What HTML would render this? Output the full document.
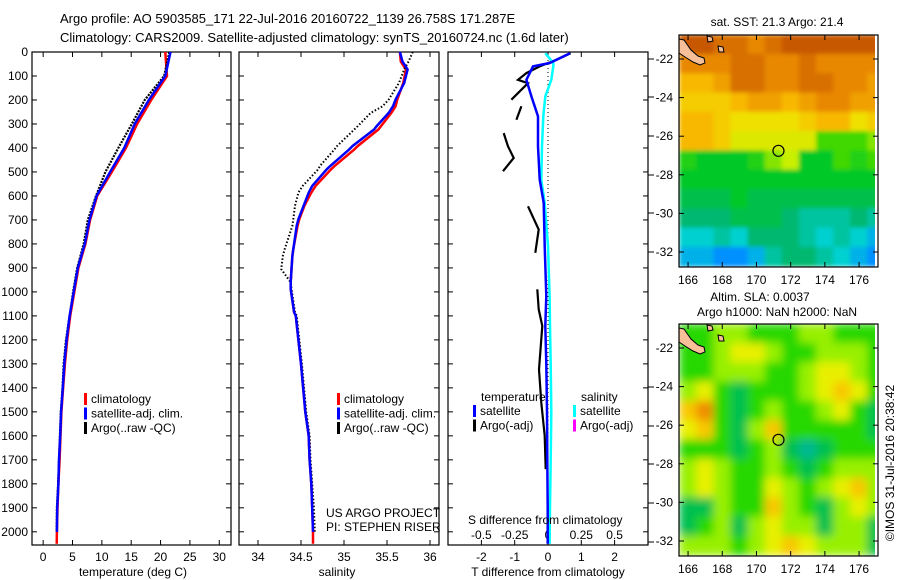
<!DOCTYPE html>
<html><head><meta charset="utf-8"><style>
body{margin:0;background:#fff;}
svg{display:block;font-family:"Liberation Sans",sans-serif;}
</style></head><body>
<svg id="fig" width="900" height="580" viewBox="0 0 900 580" xmlns="http://www.w3.org/2000/svg">
<defs>
<filter id="blurSla" x="0" y="0" width="1" height="1" filterUnits="objectBoundingBox"><feGaussianBlur stdDeviation="4.5" edgeMode="duplicate"/></filter>
<filter id="blurSst" x="0" y="0" width="1" height="1" filterUnits="objectBoundingBox"><feGaussianBlur stdDeviation="2" edgeMode="duplicate"/></filter>
</defs>
<rect width="900" height="580" fill="#fff"/>
<text x="60" y="23" font-size="13">Argo profile: AO 5903585_171 22-Jul-2016 20160722_1139 26.758S 171.287E</text>
<text x="60" y="42" font-size="13">Climatology: CARS2009. Satellite-adjusted climatology: synTS_20160724.nc (1.6d later)</text>
<g id="g"></g>
</svg>
<script>
// ---------- data ----------
const tDepth = [0,100,200,300,400,500,600,700,800,900,1000,1100,1200,1300,1400,1500,1600,1700,1800,1900,2000,2050];
const tClim  = [20.8,21.1,18.4,16.0,14.1,11.7,9.2,8.0,7.2,6.0,5.3,4.6,4.1,3.7,3.4,3.1,2.95,2.8,2.6,2.45,2.35,2.3];
const tSat   = [21.7,20.8,18.0,15.6,13.8,11.4,9.1,7.9,7.1,5.9,5.2,4.5,4.0,3.6,3.35,3.05,2.9,2.7,2.6,2.4,2.35,null];
const tArgo  = [21.5,20.6,17.3,15.1,12.8,10.6,9.0,7.6,6.9,5.8,5.1,4.5,3.9,3.5,3.3,3.0,2.85,2.7,2.55,2.35,2.3,null];
const sDepth = [0,40,73,129,198,226,254,309,323,392,406,475,489,558,586,641,697,724,822,849,905,960,988,1085,1100,1300,1500,1600,1700,1800,1900,2000,2050];
const sClim  = [35.65,35.66,35.72,35.69,35.62,35.60,35.55,35.43,35.40,35.16,35.12,34.89,34.85,34.67,34.62,34.54,34.48,34.46,34.41,34.40,34.39,34.38,34.38,34.42,34.44,34.50,34.55,34.59,34.60,34.62,34.63,34.64,34.64];
const sSat   = [35.65,35.68,35.74,35.70,35.60,35.57,35.52,35.38,35.35,35.10,35.06,34.84,34.80,34.63,34.59,34.53,34.47,34.45,34.41,34.40,34.39,34.38,34.38,34.42,34.44,34.50,34.55,34.59,34.60,34.62,34.63,34.64,null];
const sArgo  = [35.80,35.75,35.70,35.64,35.52,35.45,35.31,35.16,35.12,34.92,34.89,34.72,34.70,34.52,34.47,34.43,34.41,34.40,34.31,34.29,34.27,34.38,34.39,34.43,34.45,34.51,34.56,34.60,34.61,34.63,34.65,34.66,null];
const dtSatDepth = [5,46,60,116,185,268,393,532,629,809,1017,1142,1300,1500,1700,1900,2050];
const dtSat      = [0.66,0.05,-0.45,-0.65,-0.5,-0.3,-0.3,-0.25,-0.13,-0.1,-0.05,-0.08,-0.05,-0.03,-0.02,-0.01,-0.01];
const dsSat      = [-0.02,0.04,0.04,0.025,-0.02,-0.035,-0.045,-0.05,-0.025,0.0,0.012,0.015,0.02,0.025,0.02,0.015,0.012];
const dtArgoDepth = [5,33,60,88,116,130,157,199,null,226,282,null,338,393,442,497,null,643,740,837,null,989,1073,1142,1323,1462,1600,1739];
const dtArgo      = [0.68,0.25,-0.25,-0.65,-0.9,-0.6,-0.8,-1.1,null,-0.8,-0.95,null,-1.33,-1.2,-1.03,-1.35,null,-0.6,-0.28,-0.38,null,-0.32,-0.28,-0.17,-0.27,-0.2,-0.1,-0.07];
const depthTicks = [0,100,200,300,400,500,600,700,800,900,1000,1100,1200,1300,1400,1500,1600,1700,1800,1900,2000];
const tTicks = [0,5,10,15,20,25,30];
const sTicks = ["34","34.5","35","35.5","36"];
const dTTicks = [-2,-1,0,1,2];
const dSTicks = ["-0.5","-0.25","0","0.25","0.5"];
const lonTicks = [166,168,170,172,174,176];
const latTicks = [-22,-24,-26,-28,-30,-32];
// SST map (1 deg cells, lon 165.5.., lat -20.75 downward), scale 0 (blue) .. 10 (brown)
const sstGrid = [
 [10,10,9.5,9.5,9,9.5,10,10,10,10,10,10],
 [9,9,9,9.5,9.5,9,9,9.5,9,9,9,9],
 [8,8,8.5,9.5,9.5,9,9,9.5,9.5,9,9,8.5],
 [7.5,7.5,7.5,8,8.5,8.5,8,8.5,9,9,8.5,8.5],
 [8,8,7.5,7,7,7,7,7.5,8,8,7,7.5],
 [8,8,7.5,6.5,6.5,6.5,6.5,6.5,5,5,5,5.5],
 [4.5,4,4,4,4.5,5.5,6,4,4,5,4.5,5],
 [4,4,4,4,4,4,4,4,4,4,4,4],
 [3.5,3.5,3.5,4,3.5,3.5,3.5,3.5,3.5,3.5,3.5,3.5],
 [3,3,3,3.5,3.5,3.5,3,2.5,2.5,2.5,3,2.5],
 [2,2,2.5,2,3,3,3,2.5,2,2.5,2,1.5],
 [1.5,1.5,1,1,1.5,2.5,3,3,2.5,2,1.5,1]];
// SLA map, scale 0 (teal) .. 6 (orange)
const slaGrid = [
 [2,2,3,3,2,2,2,3,3,2,2,2],
 [2,2,3,4,4,3,2,2,3,3,3,2],
 [2,2,3,3,3,2,2,3,4,4,3,2],
 [3,4,2,1,2,2,2,3,4,5,4,2],
 [5,6,2,1,2,3,2,2,3,4,2,1],
 [4,5,2,1,3,5,2,2,2,2,2,1],
 [2,2,2,1,2,3,1,0,1,2,2,2],
 [3,4,3,2,2,3,2,1,2,3,3,3],
 [3,4,3,2,2,4,3,2,3,4,5,3],
 [1,1,3,2,2,5,3,2,1,3,4,3],
 [1,2,3,1,3,4,3,3,1,3,3,1],
 [3,3,3,2,3,4,5,4,3,3,3,1]];
const argoLon = 171.287, argoLat = -26.758;

// ---------- helpers ----------
const NS="http://www.w3.org/2000/svg";
const G=document.getElementById('g');
function mk(tag,attrs,parent){const e=document.createElementNS(NS,tag);for(const k in attrs)e.setAttribute(k,attrs[k]);(parent||G).appendChild(e);return e;}
function txt(x,y,s,anchor,size,name){const t=mk('text',{x:x,y:y,'font-size':size||12,'text-anchor':anchor||'start'});t.textContent=s;


return t;}
const PY0=52, PY1=545, DMAX=2055;
const yD = d => PY0 + d/DMAX*(PY1-PY0);
function panel(x0,x1,name){const r=mk('rect',{x:x0,y:PY0,width:x1-x0,height:PY1-PY0,fill:'none',stroke:'#000','stroke-width':1.2});

}
function line(xs,ds,fx,color,w,name,dash){let d='',pen=false;for(let i=0;i<xs.length;i++){if(xs[i]==null||ds[i]==null){pen=false;continue;}d+=(pen?'L':'M')+fx(xs[i]).toFixed(1)+' '+yD(ds[i]).toFixed(1);pen=true;}
const p=mk('path',{d:d,fill:'none',stroke:color,'stroke-width':w});if(dash)p.setAttribute('stroke-dasharray',dash);

}
function yTicks(x0,x1,labels){depthTicks.forEach(d=>{const y=yD(d);mk('line',{x1:x0,y1:y,x2:x0+5,y2:y,stroke:'#000'});mk('line',{x1:x1,y1:y,x2:x1-5,y2:y,stroke:'#000'});if(labels)txt(28,y+4,String(d),'end',12,'y-tick-label');});}
function xTicks(vals,fx,labels){vals.forEach(v=>{const x=fx(+v);mk('line',{x1:x,y1:PY1,x2:x,y2:PY1-5,stroke:'#000'});mk('line',{x1:x,y1:PY0,x2:x,y2:PY0+5,stroke:'#000'});if(labels)txt(x,561,String(v),'middle',12,'x-tick-label');});}
function legend(x,y,items){items.forEach((it,i)=>{const r=mk('rect',{x:x,y:y+i*14.5-10,width:3,height:12,fill:it[0]});


txt(x+7,y+i*14.5,it[1],'start',12,'legend-entry');});}

// ---------- panel 1 temperature ----------
const xT = t => 32 + (t+1.9)/33.9*199;
panel(32,231,'temperature-panel');
yTicks(32,231,true); xTicks(tTicks,xT,true);
line(tClim,tDepth,xT,'#f00',2.5,'temp-climatology-line');
line(tArgo,tDepth,xT,'#000',2.2,'temp-argo-line','2 1.2');
line(tSat,tDepth,xT,'#00f',2.5,'temp-satellite-line');
legend(84,403,[['#f00','climatology'],['#00f','satellite-adj. clim.'],['#000','Argo(..raw -QC)']]);
txt(133,576,'temperature (deg C)','middle',12,'x-axis-title-temperature');

// ---------- panel 2 salinity ----------
const xS = s => 258 + (s-34)*86;
panel(239,439,'salinity-panel');
yTicks(239,439,false); xTicks(sTicks,xS,true);
line(sClim,sDepth,xS,'#f00',2.5,'sal-climatology-line');
line(sArgo,sDepth,xS,'#000',2,'sal-argo-line','1.5 2');
line(sSat,sDepth,xS,'#00f',2.5,'sal-satellite-line');
legend(337,403,[['#f00','climatology'],['#00f','satellite-adj. clim.'],['#000','Argo(..raw -QC)']]);
txt(326,517,'US ARGO PROJECT','start',12,'project-credit');
txt(326,531,'PI: STEPHEN RISER','start',12,'pi-credit');
txt(337,576,'salinity','middle',12,'x-axis-title-salinity');

// ---------- panel 3 differences ----------
const xDT = t => 548 + t*33.3;
const xDS = s => 548 + s*133.2;
panel(448,648,'difference-panel');
yTicks(448,648,false);
dTTicks.forEach(v=>{const x=xDT(v);mk('line',{x1:x,y1:PY1,x2:x,y2:PY1-5,stroke:'#000'});mk('line',{x1:x,y1:PY0,x2:x,y2:PY0+5,stroke:'#000'});txt(x,561,String(v),'middle',12,'t-diff-tick-label');});
dSTicks.forEach(v=>{txt(xDS(+v),539,v,'middle',12,'s-diff-tick-label');});
const zl=mk('line',{x1:xDT(0),y1:PY0,x2:xDT(0),y2:PY1,stroke:'#000','stroke-dasharray':'1 3'});


line(dtArgo,dtArgoDepth,xDT,'#000',2.2,'t-diff-argo-line');
line(dsSat,dtSatDepth,xDS,'#0ff',2.5,'s-diff-satellite-line');
line(dtSat,dtSatDepth,xDT,'#00f',2.5,'t-diff-satellite-line');
txt(481,401,'temperature','start',12,'legend-title-temperature');
txt(581,401,'salinity','start',12,'legend-title-salinity');
legend(473,415,[['#00f','satellite'],['#000','Argo(-adj)']]);
legend(573,415,[['#0ff','satellite'],['#f0f','Argo(-adj)']]);
txt(468,524,'S difference from climatology','start',12,'s-diff-axis-title');
txt(548,576,'T difference from climatology','middle',12,'t-diff-axis-title');
[59,97,136,175,213,252,387,426,464,503,542].forEach(y=>mk('line',{x1:648,y1:y,x2:654,y2:y,stroke:'#000'}));

// ---------- maps ----------
const MX0=679, MX1=878;
const lonX = l => 679 + (l-165.47)*17.1;
const sstCols=[[0,[0,80,240]],[1,[0,144,255]],[2,[0,208,208]],[3,[0,184,112]],[4,[0,200,40]],[5,[64,216,0]],[6,[200,240,0]],[7,[240,224,0]],[8,[248,184,0]],[9,[232,136,0]],[10,[200,88,0]]];
const slaCols=[[0,[0,184,144]],[1,[0,192,80]],[2,[40,216,0]],[3,[152,240,0]],[4,[232,240,0]],[5,[248,200,0]],[6,[240,140,0]]];
function col(scale,v){
  for(let k=0;k<scale.length-1;k++){const a=scale[k],b=scale[k+1];
    if(v<=b[0]||k==scale.length-2){const f=Math.max(0,Math.min(1,(v-a[0])/(b[0]-a[0])));
      const c=a[1].map((x,i)=>Math.round(x+(b[1][i]-x)*f));return 'rgb('+c.join(',')+')';}}
}
function map(yTop,grid,scale,name,id,filt){
  const latY = a => yTop+24 + (-22-a)*19.3;
  const yBot=yTop+232;
  const cp=mk('clipPath',{id:id});mk('rect',{x:MX0,y:yTop,width:196,height:232},cp);
  const outer=mk('g',{'clip-path':'url(#'+id+')'});
  
  
  const g=mk('g',{filter:'url(#'+filt+')'},outer);
  grid.forEach((row,j)=>row.forEach((v,i)=>{const lo=165.5+i, la=-20.75-j;
    const r=mk('rect',{x:lonX(lo)-0.3,y:latY(la)-0.3,width:17.1+0.6,height:19.3+0.6,fill:col(scale,v)},g);
    
    }));
  const isl=mk('polygon',{points:[[679,yTop+4],[684,yTop+5],[691,yTop+15],[698,yTop+21],[704,yTop+23],[705,yTop+28],[700,yTop+30],[693,yTop+27],[685,yTop+22],[679,yTop+18]].map(p=>p.join(',')).join(' '),fill:'#f8c098',stroke:'#000','stroke-width':1},outer);
  
  
  const isl2=mk('polygon',{points:[[707,yTop+1],[712,yTop+2],[713,yTop+6],[708,yTop+7]].map(p=>p.join(',')).join(' '),fill:'#f8c098',stroke:'#000'},outer);
  
  
  const isl3=mk('polygon',{points:[[718,yTop+11],[723,yTop+12],[724,yTop+17],[719,yTop+17]].map(p=>p.join(',')).join(' '),fill:'#f8c098',stroke:'#000'},outer);
  
  
  mk('rect',{x:875,y:yTop,width:3,height:232,fill:'#fff'});
  const fr=mk('rect',{x:MX0,y:yTop,width:MX1-MX0,height:232,fill:'none',stroke:'#000','stroke-width':1.2});
  
  
  lonTicks.forEach(l=>{const x=lonX(l);mk('line',{x1:x,y1:yTop,x2:x,y2:yTop+5,stroke:'#000'});mk('line',{x1:x,y1:yBot,x2:x,y2:yBot-5,stroke:'#000'});txt(x,yBot+17,String(l),'middle',12,'lon-tick-label');});
  latTicks.forEach(a=>{const y=latY(a);mk('line',{x1:MX0,y1:y,x2:MX0+5,y2:y,stroke:'#000'});mk('line',{x1:MX1,y1:y,x2:MX1-5,y2:y,stroke:'#000'});txt(673,y+4,String(a),'end',12,'lat-tick-label');});
  const c=mk('circle',{cx:lonX(argoLon),cy:latY(argoLat),r:5.5,fill:'none',stroke:'#000','stroke-width':1.2});
  
  
}
map(35,sstGrid,sstCols,'sst-map','clipA','blurSst');
map(324,slaGrid,slaCols,'sla-map','clipB','blurSla');
txt(777,26,'sat. SST: 21.3 Argo: 21.4','middle',12,'sst-map-title');
txt(760,301,'Altim. SLA: 0.0037','middle',12,'sla-map-title');
txt(777,316,'Argo h1000: NaN h2000: NaN','middle',12,'sla-map-subtitle');
const cr=txt(0,0,'©IMOS 31-Jul-2016 20:38:42','middle',12,'imos-credit');
cr.setAttribute('transform','translate(894,463) rotate(-90)');
</script>
</body></html>
